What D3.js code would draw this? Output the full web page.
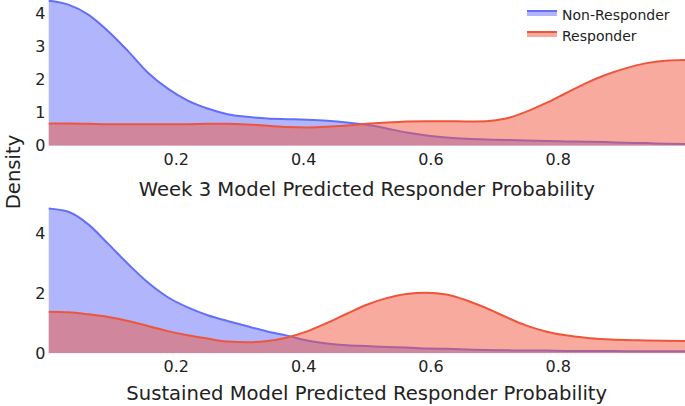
<!DOCTYPE html>
<html><head><meta charset="utf-8">
<script src="https://cdn.jsdelivr.net/npm/d3@7"></script>
<style>body{margin:0;background:#fff}svg{display:block;font-family:"DejaVu Sans",Verdana,sans-serif}</style>
</head><body><svg id="c" width="685" height="406"></svg>
<script>
const xGrid = d3.range(33).map(i => i / 32);
const week3NonResponder = [4.37,4.25,3.95,3.45,2.85,2.2,1.72,1.36,1.12,0.95,0.87,0.82,0.80,0.78,0.75,0.70,0.63,0.52,0.40,0.31,0.25,0.21,0.19,0.17,0.16,0.14,0.13,0.12,0.11,0.09,0.08,0.06,0.05];
const week3Responder = [0.67,0.67,0.66,0.65,0.65,0.65,0.65,0.65,0.66,0.66,0.64,0.60,0.56,0.55,0.57,0.61,0.66,0.70,0.73,0.74,0.74,0.73,0.74,0.82,1.02,1.28,1.58,1.88,2.13,2.33,2.48,2.56,2.58];
const sustNonResponder = [4.83,4.72,4.3,3.65,2.98,2.36,1.87,1.53,1.27,1.08,0.9,0.73,0.59,0.43,0.33,0.27,0.24,0.21,0.19,0.16,0.15,0.13,0.11,0.10,0.09,0.09,0.08,0.08,0.08,0.07,0.07,0.07,0.07];
const sustResponder = [1.39,1.37,1.30,1.21,1.08,0.91,0.74,0.60,0.49,0.39,0.37,0.41,0.53,0.73,1.01,1.32,1.62,1.84,1.98,2.02,1.96,1.77,1.51,1.21,0.93,0.73,0.60,0.52,0.47,0.44,0.43,0.42,0.41];
const xTicks = [0.2, 0.4, 0.6, 0.8];
const week3YTicks = [0, 1, 2, 3, 4];
const sustYTicks = [0, 2, 4];
const seriesNames = ["Non-Responder", "Responder"];
const colors = ["#636efa", "#ef553b"];
const xTitles = ["Week 3 Model Predicted Responder Probability", "Sustained Model Predicted Responder Probability"];

const svg = d3.select("#c");
const x = d3.scaleLinear().domain([0, 1]).range([48.5, 685]);

const panels = [
  {non: week3NonResponder, resp: week3Responder, yMax: 4.39, top: 0, bottom: 145.7, ticks: week3YTicks, title: xTitles[0], tickY: 159, titleY: 189},
  {non: sustNonResponder, resp: sustResponder, yMax: 4.87, top: 207.3, bottom: 353.3, ticks: sustYTicks, title: xTitles[1], tickY: 366.5, titleY: 393}
];

panels.forEach((p, pi) => {
  const y = d3.scaleLinear().domain([0, p.yMax]).range([p.bottom, p.top]);
  const g = svg.append("g");
  const clipId = "clip" + pi;
  svg.append("clipPath").attr("id", clipId).append("rect")
    .attr("x", x(0)).attr("y", p.top - 2).attr("width", x(1) - x(0)).attr("height", p.bottom - p.top + 2);
  const area = d3.area().x((d, i) => x(xGrid[i])).y0(y(0)).y1(d => y(d)).curve(d3.curveMonotoneX);
  const line = d3.line().x((d, i) => x(xGrid[i])).y(d => y(d)).curve(d3.curveMonotoneX);
  [p.non, p.resp].forEach((vals, si) => {
    const gg = g.append("g").attr("clip-path", `url(#${clipId})`);
    gg.append("path").attr("d", area(vals)).attr("fill", colors[si]).attr("fill-opacity", 0.5);
    gg.append("path").attr("d", line(vals)).attr("fill", "none").attr("stroke", colors[si]).attr("stroke-width", 2);
  });
  const xAxis = d3.axisBottom(x).tickValues(xTicks).tickSize(0).tickPadding(0).tickFormat(d3.format(".1f"));
  const xa = svg.append("g").attr("transform", `translate(0,${p.tickY})`).call(xAxis);
  xa.select(".domain").remove();
  xa.selectAll("text").attr("dy", "0.35em").attr("y", 0).attr("font-size", 16).attr("fill", "#222").attr("font-family", "DejaVu Sans");
  const yAxis = d3.axisLeft(y).tickValues(p.ticks).tickSize(0).tickPadding(3).tickFormat(d3.format("d"));
  const ya = svg.append("g").attr("transform", `translate(${x(0)},0)`).call(yAxis);
  ya.select(".domain").remove();
  ya.selectAll("text").attr("font-size", 16).attr("fill", "#222").attr("font-family", "DejaVu Sans");
  svg.append("text").attr("x", (x(0) + x(1)) / 2).attr("y", p.titleY).attr("text-anchor", "middle")
    .attr("dominant-baseline", "central").attr("font-size", 19.6).attr("fill", "#222").text(p.title);
});

svg.append("text").attr("transform", "translate(13,172) rotate(-90)").attr("text-anchor", "middle")
  .attr("dominant-baseline", "central").attr("font-size", 19.6).attr("fill", "#222").text("Density");

const lg = svg.append("g");
seriesNames.forEach((n, i) => {
  const yy = 11 + i * 21;
  lg.append("rect").attr("x", 527).attr("y", yy).attr("width", 30).attr("height", 5).attr("fill", colors[i]).attr("fill-opacity", 0.5);
  lg.append("line").attr("x1", 527).attr("x2", 557).attr("y1", yy).attr("y2", yy).attr("stroke", colors[i]).attr("stroke-width", 2);
  lg.append("text").attr("x", 562).attr("y", yy + 3.5).attr("dominant-baseline", "central").attr("font-size", 14).attr("fill", "#222").text(n);
});
</script></body></html>
